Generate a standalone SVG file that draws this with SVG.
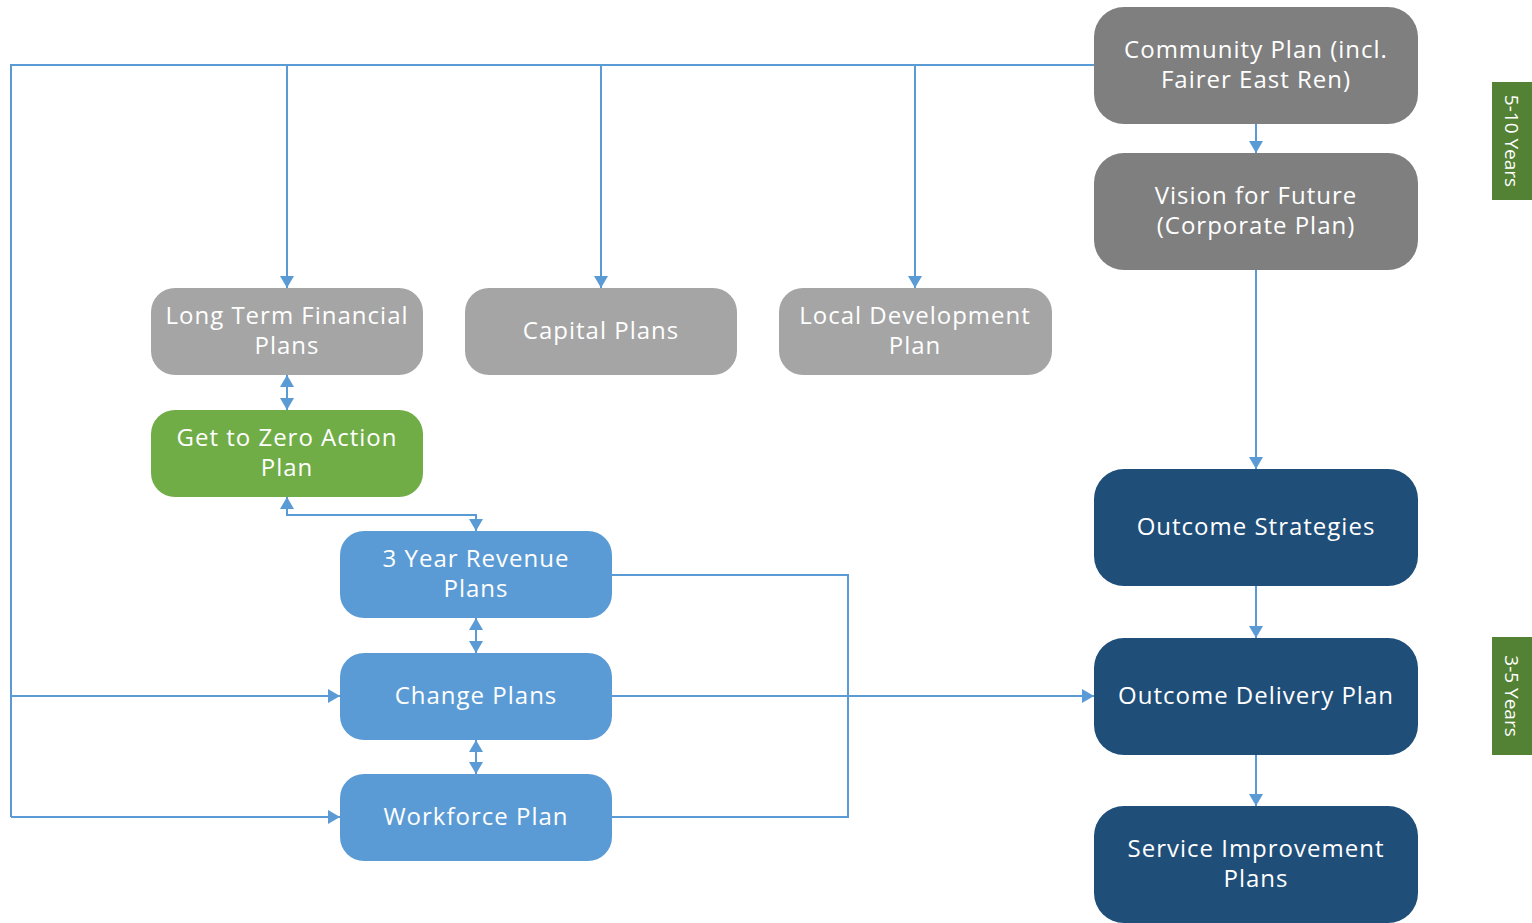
<svg xmlns="http://www.w3.org/2000/svg" width="1532" height="923" viewBox="0 0 1532 923">
  <style>
    .lbl { font-family: "Open Sans", "Liberation Sans", sans-serif; font-size: 24px; letter-spacing: 1px; fill: #ffffff; text-anchor: middle; }
    .tab { font-family: "Open Sans", "Liberation Sans", sans-serif; font-size: 19px; fill: #ffffff; text-anchor: middle; }
    .g1 { fill: #7f7f7f; }
    .g2 { fill: #a5a5a5; }
    .grn { fill: #70ad47; }
    .blu { fill: #5b9bd5; }
    .nav { fill: #1f4e79; }
    .side { fill: #548235; }
    .wire { fill: none; stroke: #5b9bd5; stroke-width: 2; }
  </style>
  <defs>
    <marker id="arrowEnd" markerUnits="userSpaceOnUse" markerWidth="16" markerHeight="16" refX="12" refY="7" orient="auto">
      <path d="M0,0 L12,7 L0,14 Z" fill="#5b9bd5"/>
    </marker>
    <marker id="arrowStart" markerUnits="userSpaceOnUse" markerWidth="16" markerHeight="16" refX="0" refY="7" orient="auto">
      <path d="M12,0 L0,7 L12,14 Z" fill="#5b9bd5"/>
    </marker>
  </defs>
  <rect width="1532" height="923" fill="#ffffff"/>

  <g id="connectors">
    <!-- feed from Community Plan across the top and down the left edge -->
    <path class="wire" d="M1094,65 H11 V817"/>
    <path class="wire" d="M287,65 V288" marker-end="url(#arrowEnd)"/>
    <path class="wire" d="M601,65 V288" marker-end="url(#arrowEnd)"/>
    <path class="wire" d="M915,65 V288" marker-end="url(#arrowEnd)"/>
    <path class="wire" d="M11,696 H340" marker-end="url(#arrowEnd)"/>
    <path class="wire" d="M11,817 H340" marker-end="url(#arrowEnd)"/>
    <!-- right-hand column -->
    <path class="wire" d="M1256,124 V153" marker-end="url(#arrowEnd)"/>
    <path class="wire" d="M1256,270 V469" marker-end="url(#arrowEnd)"/>
    <path class="wire" d="M1256,586 V638" marker-end="url(#arrowEnd)"/>
    <path class="wire" d="M1256,755 V806" marker-end="url(#arrowEnd)"/>
    <!-- change plans into delivery plan -->
    <path class="wire" d="M612,696 H1094" marker-end="url(#arrowEnd)"/>
    <!-- revenue / workforce loop -->
    <path class="wire" d="M612,575 H848 V817 H612"/>
    <!-- two-way links -->
    <path class="wire" d="M287,375 V410" marker-start="url(#arrowStart)" marker-end="url(#arrowEnd)"/>
    <path class="wire" d="M287,497 V515 H476 V531" marker-start="url(#arrowStart)" marker-end="url(#arrowEnd)"/>
    <path class="wire" d="M476,618 V653" marker-start="url(#arrowStart)" marker-end="url(#arrowEnd)"/>
    <path class="wire" d="M476,740 V774" marker-start="url(#arrowStart)" marker-end="url(#arrowEnd)"/>
  </g>

  <g id="community-plan">
    <rect class="g1" x="1094" y="7" width="324" height="117" rx="30"/>
    <text class="lbl" x="1256" y="58">Community Plan (incl.</text>
    <text class="lbl" x="1256" y="88">Fairer East Ren)</text>
  </g>
  <g id="vision">
    <rect class="g1" x="1094" y="153" width="324" height="117" rx="30"/>
    <text class="lbl" x="1256" y="204">Vision for Future</text>
    <text class="lbl" x="1256" y="234">(Corporate Plan)</text>
  </g>
  <g id="outcome-strategies">
    <rect class="nav" x="1094" y="469" width="324" height="117" rx="30"/>
    <text class="lbl" x="1256" y="535">Outcome Strategies</text>
  </g>
  <g id="outcome-delivery">
    <rect class="nav" x="1094" y="638" width="324" height="117" rx="30"/>
    <text class="lbl" x="1256" y="704">Outcome Delivery Plan</text>
  </g>
  <g id="service-improvement">
    <rect class="nav" x="1094" y="806" width="324" height="117" rx="30"/>
    <text class="lbl" x="1256" y="857">Service Improvement</text>
    <text class="lbl" x="1256" y="887">Plans</text>
  </g>

  <g id="long-term-financial">
    <rect class="g2" x="151" y="288" width="272" height="87" rx="24"/>
    <text class="lbl" x="287" y="324">Long Term Financial</text>
    <text class="lbl" x="287" y="354">Plans</text>
  </g>
  <g id="capital-plans">
    <rect class="g2" x="465" y="288" width="272" height="87" rx="24"/>
    <text class="lbl" x="601" y="339">Capital Plans</text>
  </g>
  <g id="local-development">
    <rect class="g2" x="779" y="288" width="273" height="87" rx="24"/>
    <text class="lbl" x="915" y="324">Local Development</text>
    <text class="lbl" x="915" y="354">Plan</text>
  </g>
  <g id="get-to-zero">
    <rect class="grn" x="151" y="410" width="272" height="87" rx="24"/>
    <text class="lbl" x="287" y="446">Get to Zero Action</text>
    <text class="lbl" x="287" y="476">Plan</text>
  </g>
  <g id="revenue-plans">
    <rect class="blu" x="340" y="531" width="272" height="87" rx="24"/>
    <text class="lbl" x="476" y="567">3 Year Revenue</text>
    <text class="lbl" x="476" y="597">Plans</text>
  </g>
  <g id="change-plans">
    <rect class="blu" x="340" y="653" width="272" height="87" rx="24"/>
    <text class="lbl" x="476" y="704">Change Plans</text>
  </g>
  <g id="workforce-plan">
    <rect class="blu" x="340" y="774" width="272" height="87" rx="24"/>
    <text class="lbl" x="476" y="825">Workforce Plan</text>
  </g>

  <g id="tab-5-10">
    <rect class="side" x="1492" y="82" width="40" height="118"/>
    <text class="tab" transform="translate(1512,141) rotate(90)" y="7">5-10 Years</text>
  </g>
  <g id="tab-3-5">
    <rect class="side" x="1492" y="637" width="40" height="118"/>
    <text class="tab" transform="translate(1512,696) rotate(90)" y="7">3-5 Years</text>
  </g>
</svg>
